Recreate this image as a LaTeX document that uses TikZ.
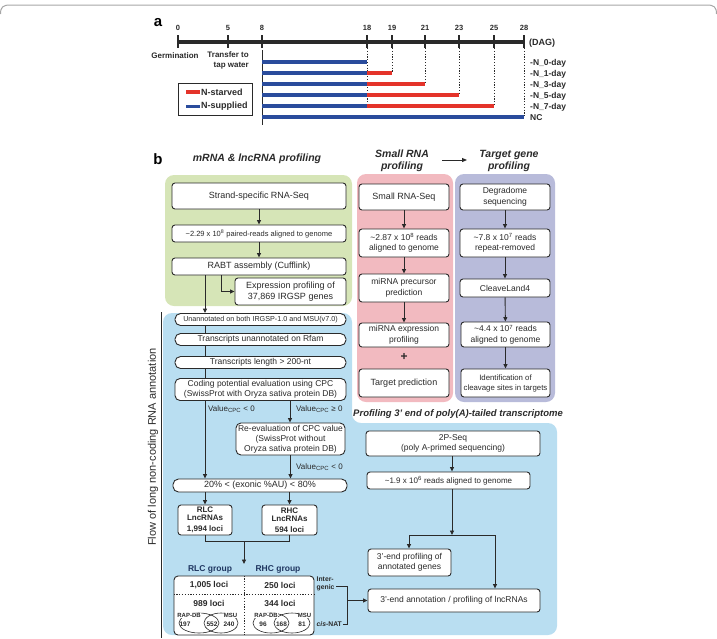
\documentclass[tikz,border=0pt]{standalone}
\usepackage{fontspec}
\setmainfont{Liberation Sans}
\usetikzlibrary{arrows.meta,calc}
\definecolor{gfill}{HTML}{D6E5B7}
\definecolor{pfill}{HTML}{F2BAC0}
\definecolor{vfill}{HTML}{B8BBDA}
\definecolor{bfill}{HTML}{B9DEF1}
\definecolor{rbar}{HTML}{E4332A}
\definecolor{bbar}{HTML}{2A4C9C}
\definecolor{navy}{HTML}{1E3560}
\definecolor{ink}{HTML}{2A2A2A}
\newcommand{\myfs}[2]{\fontsize{#1}{#2}\selectfont}
\tikzset{
  bx/.style={draw=ink, line width=0.9pt, rounded corners=3pt, fill=white, inner sep=0pt,
    align=center, text=ink, font=\myfs{8.5}{10}},
  pill/.style={bx, rounded corners=5.5pt},
  arr/.style={draw=ink, line width=0.9pt, -{Triangle[length=4.5pt,width=4pt]}},
  ln/.style={draw=ink, line width=0.9pt},
  lbl/.style={inner sep=0pt, text=ink, font=\bfseries\myfs{7.5}{8}},
  dots/.style={draw=ink, line width=0.9pt, dash pattern=on 1.2pt off 1.6pt},
  barb/.style={draw=bbar, line width=3.5pt},
  barr/.style={draw=rbar, line width=3.5pt},
  ttl/.style={inner sep=0pt, text=ink, align=center, font=\bfseries\itshape\myfs{10.5}{12.5}},
  grp/.style={inner sep=0pt, text=navy, font=\bfseries\myfs{8.5}{9}},
  cell/.style={inner sep=0pt, text=ink, font=\bfseries\myfs{8.5}{9}},
  venn/.style={inner sep=0pt, text=ink, font=\bfseries\myfs{6.5}{7}},
  vlab/.style={inner sep=0.3pt, fill=white, text=ink, font=\bfseries\myfs{6}{7}},
}
\begin{document}
\begin{tikzpicture}[x=1pt,y=-1pt]
\useasboundingbox (0,0) rectangle (717,638);
% frame
\draw[gray!70, line width=1pt] (0.5,14) .. controls (0.5,7) and (3,5) .. (10,5) -- (707,5) .. controls (714,5) and (716.5,7) .. (716.5,14);

% ================= panel a =================
\node[inner sep=0pt, font=\bfseries\myfs{15}{15}] (lblA) at (158,23) {a};
\draw[line width=3.8pt, ink] (178,42) -- (524,42);
\foreach \x/\t in {178/0,228/5,262/8,367/18,392/19,425/21,459/23,494/25,524/28}{
  \draw[line width=1.3pt, ink] (\x,35) -- (\x,48);
  \node[lbl] (t\t) at (\x,28) {\t};
}
\node[lbl, font=\bfseries\myfs{9}{9}, anchor=west] (dag) at (529,43) {(DAG)};
\node[lbl, font=\bfseries\myfs{8}{9}] (germ) at (175,56) {Germination};
\node[lbl, font=\bfseries\myfs{8}{10}, align=right, anchor=north east] (trans) at (249,51) {Transfer to\\tap water};
\draw[ln] (262,50) -- (262,125);
\draw[dots] (367,48) -- (367,106);
\draw[dots] (392,48) -- (392,73);
\draw[dots] (425,48) -- (425,84);
\draw[dots] (459,48) -- (459,95);
\draw[dots] (494,48) -- (494,106);
\draw[dots] (524,48) -- (524,117);
\foreach \y in {62,73,84,95,106}{ \draw[barb] (262,\y) -- (367,\y); }
\draw[barr] (367,73) -- (392,73);
\draw[barr] (367,84) -- (425,84);
\draw[barr] (367,95) -- (459,95);
\draw[barr] (367,106) -- (494,106);
\draw[barb] (262,117) -- (524,117);
\foreach \y/\t in {62/-N\_0-day,73/-N\_1-day,84/-N\_3-day,95/-N\_5-day,106/-N\_7-day,117/NC}{
  \node[lbl, font=\bfseries\myfs{8.5}{9}, anchor=west] at (530,\y+1) {\t};
}
\draw[ln] (178,83) rectangle (252,115);
\draw[barr] (186,92) -- (200,92);
\node[lbl, font=\bfseries\myfs{9}{9}, anchor=west] (lgr) at (201,92) {N-starved};
\draw[barb] (186,106.5) -- (200,106.5);
\node[lbl, font=\bfseries\myfs{9}{9}, anchor=west] (lgb) at (201,106.5) {N-supplied};

% ================= panel b =================
\fill[gfill, rounded corners=9pt] (165,175) rectangle (352,306);
\fill[pfill, rounded corners=9pt] (357,174) rectangle (453,402);
\fill[vfill, rounded corners=9pt] (455,174) rectangle (555,402);
\fill[bfill, rounded corners=9pt] (163,313) -- (352,313) -- (352,423) -- (557,423) -- (557,635) -- (163,635) -- cycle;

\node[inner sep=0pt, font=\bfseries\myfs{15}{15}] (lblB) at (158,159) {b};
\node[ttl] (h1) at (257,159) {mRNA \& lncRNA profiling};
\node[ttl] (h2) at (402,161) {Small RNA\\profiling};
\node[ttl] (h3) at (509,161) {Target gene\\profiling};
\coordinate (ha) at (442,160);
\coordinate (hb) at (467,160);
\draw[ink, line width=1pt, -{Triangle[length=5pt,width=4pt]}] (ha) -- (hb);

% vertical label
\node[rotate=90, inner sep=0pt, text=ink, font=\myfs{11}{12}] (flow) at (153,447) {Flow of long non-coding RNA annotation};
\draw[ln] (161,312) -- (161,638);

% green column
\node[bx, font=\myfs{9}{10}, minimum width=174pt, minimum height=26pt] (n1) at (259,196) {Strand-specific RNA-Seq};
\node[bx, font=\myfs{7.5}{9}, minimum width=174pt, minimum height=17pt] (n2) at (259,233.5) {\textasciitilde2.29 x 10\textsuperscript{8} paired-reads aligned to genome};
\node[bx, font=\myfs{9}{10}, minimum width=174pt, minimum height=17pt] (n3) at (259,266.5) {RABT assembly (Cufflink)};
\node[bx, font=\myfs{9}{10.5}, minimum width=111pt, minimum height=27pt] (n4) at (290.5,291.5) {Expression profiling of\\37,869 IRGSP genes};
\draw[arr] (n1) -- (n2);
\draw[arr] (n2) -- (n3);
\draw[arr] ([xshift=-38pt]n3.south) |- (n4.west);

% blue left column
\node[pill, font=\myfs{7.2}{8}, minimum width=171pt, minimum height=12pt] (n5) at (260.5,319.5) {Unannotated on both IRGSP-1.0 and MSU(v7.0)};
\node[pill, font=\myfs{8.5}{9}, minimum width=171pt, minimum height=12pt] (n6) at (260.5,339.5) {Transcripts unannotated on Rfam};
\node[pill, font=\myfs{8.5}{9}, minimum width=171pt, minimum height=12pt] (n7) at (260.5,362.5) {Transcripts length > 200-nt};
\node[bx, rounded corners=5pt, font=\myfs{8.5}{10}, minimum width=171pt, minimum height=22pt] (n8) at (260.5,389.5) {Coding potential evaluation using CPC\\(SwissProt with Oryza sativa protein DB)};
\draw[arr] ([xshift=-54pt]n3.south) -- ([xshift=-54pt]n3.south |- n5.north);
\draw[ln] ([xshift=-55.5pt]n5.south) -- ([xshift=-55.5pt]n6.north);
\draw[ln] ([xshift=-55.5pt]n6.south) -- ([xshift=-55.5pt]n7.north);
\draw[ln] ([xshift=-55.5pt]n7.south) -- ([xshift=-55.5pt]n8.north);
\node[bx, rounded corners=5pt, font=\myfs{8.5}{10}, minimum width=109pt, minimum height=32pt] (n10) at (290.5,439) {Re-evaluation of CPC value\\(SwissProt without\\Oryza sativa protein DB)};
\node[pill, font=\myfs{9}{10}, minimum width=174pt, minimum height=13pt] (n9) at (260,485.5) {20\% < (exonic \%AU) < 80\%};
\draw[arr] ([xshift=-55.5pt]n8.south) -- ([xshift=-55.5pt]n8.south |- n9.north);
\draw[arr] ([xshift=29.5pt]n8.south) -- ([xshift=29.5pt]n8.south |- n10.north);
\draw[arr] (n10.south) -- (n10.south |- n9.north);
\node[inner sep=0pt, anchor=west, text=ink, font=\myfs{8}{9}] (v1) at (208,409) {Value\textsubscript{CPC} < 0};
\node[inner sep=0pt, anchor=west, text=ink, font=\myfs{8}{9}] (v2) at (296,409) {Value\textsubscript{CPC} ≥ 0};
\node[inner sep=0pt, anchor=west, text=ink, font=\myfs{8}{9}] (v3) at (296,467) {Value\textsubscript{CPC} < 0};

\node[bx, font=\bfseries\myfs{8}{8}, minimum width=54pt, minimum height=30pt] (n11) at (205,520) {RLC\\LncRNAs\\[2.5pt]1,994 loci};
\node[bx, font=\bfseries\myfs{8}{8}, minimum width=55pt, minimum height=30pt] (n12) at (289.5,520) {RHC\\LncRNAs\\[2.5pt]594 loci};
\draw[arr] (n9.south -| n11.north) -- (n11.north);
\draw[arr] (n9.south -| n12.north) -- (n12.north);
\coordinate (m1) at (244,541);
\coordinate (m2) at (244,564);
\draw[ln] (n11.south) |- (m1) -| (n12.south);
\draw[arr] (m1) -- (m2);
\node[grp] (g1) at (210,569.5) {RLC group};
\node[grp] (g2) at (278,569.5) {RHC group};

\node[bx, rounded corners=4pt, minimum width=140pt, minimum height=59pt] (tab) at (244,605.5) {};
\draw[dots] (tab.north) -- (tab.south);
\draw[dots] (tab.west |- 0,594) -- (tab.east |- 0,594);
\node[cell] (c1) at (209,585) {1,005 loci};
\node[cell] (c2) at (280,585) {250 loci};
\node[cell] (c3) at (209,603) {989 loci};
\node[cell] (c4) at (280,603) {344 loci};
\draw[ink, line width=0.6pt] (199,623) ellipse [x radius=20, y radius=10];
\draw[ink, line width=0.6pt] (221,623) ellipse [x radius=17, y radius=10];
\draw[ink, line width=0.6pt] (271,623) ellipse [x radius=18, y radius=10];
\draw[ink, line width=0.6pt] (292,623) ellipse [x radius=18, y radius=10];
\node[vlab] (r1) at (189,615.5) {RAP-DB};
\node[vlab] (m1t) at (230.5,615.5) {MSU};
\node[venn] (s1) at (185,624.5) {197};
\node[venn] (s2) at (212,624.5) {552};
\node[venn] (s3) at (229,624.5) {240};
\node[vlab] (r2) at (266,615.5) {RAP-DB};
\node[vlab] (m2t) at (304.5,615.5) {MSU};
\node[venn] (s4) at (263,624.5) {96};
\node[venn] (s5) at (281.5,624.5) {168};
\node[venn] (s6) at (302,624.5) {81};
\node[inner sep=0pt, anchor=north west, align=left, text=ink, font=\bfseries\myfs{6.8}{7.8}] (ig) at (316.5,576.5) {Inter-\\genic};
\node[inner sep=0pt, anchor=west, text=ink, font=\bfseries\myfs{6.8}{8}] (cn) at (316.5,624) {\textit{cis}-NAT};

% pink column
\node[bx, font=\myfs{9}{10}, minimum width=90pt, minimum height=26pt] (p1) at (404,197) {Small RNA-Seq};
\node[bx, font=\myfs{8.5}{10.5}, minimum width=90pt, minimum height=28pt] (p2) at (404,243) {\textasciitilde2.87 x 10\textsuperscript{8} reads\\aligned to genome};
\node[bx, font=\myfs{8.5}{10.5}, minimum width=90pt, minimum height=28pt] (p3) at (404,288) {miRNA precursor\\prediction};
\node[bx, font=\myfs{8.5}{10.5}, minimum width=90pt, minimum height=24pt] (p4) at (404,335) {miRNA expression\\profiling};
\node[inner sep=0pt, text=ink, font=\bfseries\myfs{12}{12}] (plus) at (404,357) {+};
\node[bx, font=\myfs{9}{10}, minimum width=90pt, minimum height=28pt] (p5) at (404,383) {Target prediction};
\draw[arr] (p1) -- (p2);
\draw[arr] (p2) -- (p3);
\draw[arr] (p3) -- (p4);

% purple column
\node[bx, font=\myfs{8.5}{10.5}, minimum width=90pt, minimum height=26pt] (q1) at (505,197) {Degradome\\sequencing};
\node[bx, font=\myfs{8.5}{10.5}, minimum width=90pt, minimum height=28pt] (q2) at (505,243) {\textasciitilde7.8 x 10\textsuperscript{7} reads\\repeat-removed};
\node[bx, font=\myfs{8.5}{10}, minimum width=90pt, minimum height=18pt] (q3) at (505,288) {CleaveLand4};
\node[bx, font=\myfs{8.5}{10.5}, minimum width=89pt, minimum height=25pt] (q4) at (505.5,334.5) {\textasciitilde4.4 x 10\textsuperscript{7} reads\\aligned to genome};
\node[bx, font=\myfs{7.8}{10}, minimum width=89pt, minimum height=28pt] (q5) at (505.5,383) {Identification of\\cleavage sites in targets};
\draw[arr] (q1) -- (q2);
\draw[arr] (q2) -- (q3);
\draw[arr] (q3) -- (q4);
\draw[arr] (q4) -- (q5);

% right blue region
\node[ttl, font=\bfseries\itshape\myfs{9.5}{10}] (h4) at (458,414) {Profiling 3' end of poly(A)-tailed transcriptome};
\node[bx, font=\myfs{8.5}{10.5}, minimum width=174pt, minimum height=25pt] (n14) at (453,443.5) {2P-Seq\\(poly A-primed sequencing)};
\node[bx, font=\myfs{8}{10}, minimum width=163pt, minimum height=17pt] (n15) at (448.5,480.5) {\textasciitilde1.9 x 10\textsuperscript{6} reads aligned to genome};
\node[bx, font=\myfs{8.5}{10.5}, minimum width=83pt, minimum height=27pt] (n16) at (409.5,562.5) {3'-end profiling of\\annotated genes};
\node[bx, font=\myfs{8.5}{10}, minimum width=172pt, minimum height=23pt] (n17) at (454,600.5) {3'-end annotation / profiling of lncRNAs};
\draw[arr] ([xshift=-1pt]n14.south) -- ([xshift=3.5pt]n15.north);
\coordinate (j0) at (452,535);
\coordinate (jl) at (409,535);
\coordinate (jr) at (495,535);
\draw[arr] ([xshift=3.5pt]n15.south) -- (j0);
\draw[ln] (jl) -- (jr);
\draw[arr] (jl) -- (jl |- n16.north);
\draw[arr] (jr) -- (jr |- n17.north);
% bracket
\coordinate (b1) at (336,586);
\coordinate (b2) at (347,586);
\coordinate (b3) at (347,624);
\coordinate (b4) at (343,624);
\draw[ln] (b1) -- (b2) -- (b3) -- (b4);
\draw[arr] (b2 |- n17.west) -- (n17.west);
\end{tikzpicture}
\end{document}
